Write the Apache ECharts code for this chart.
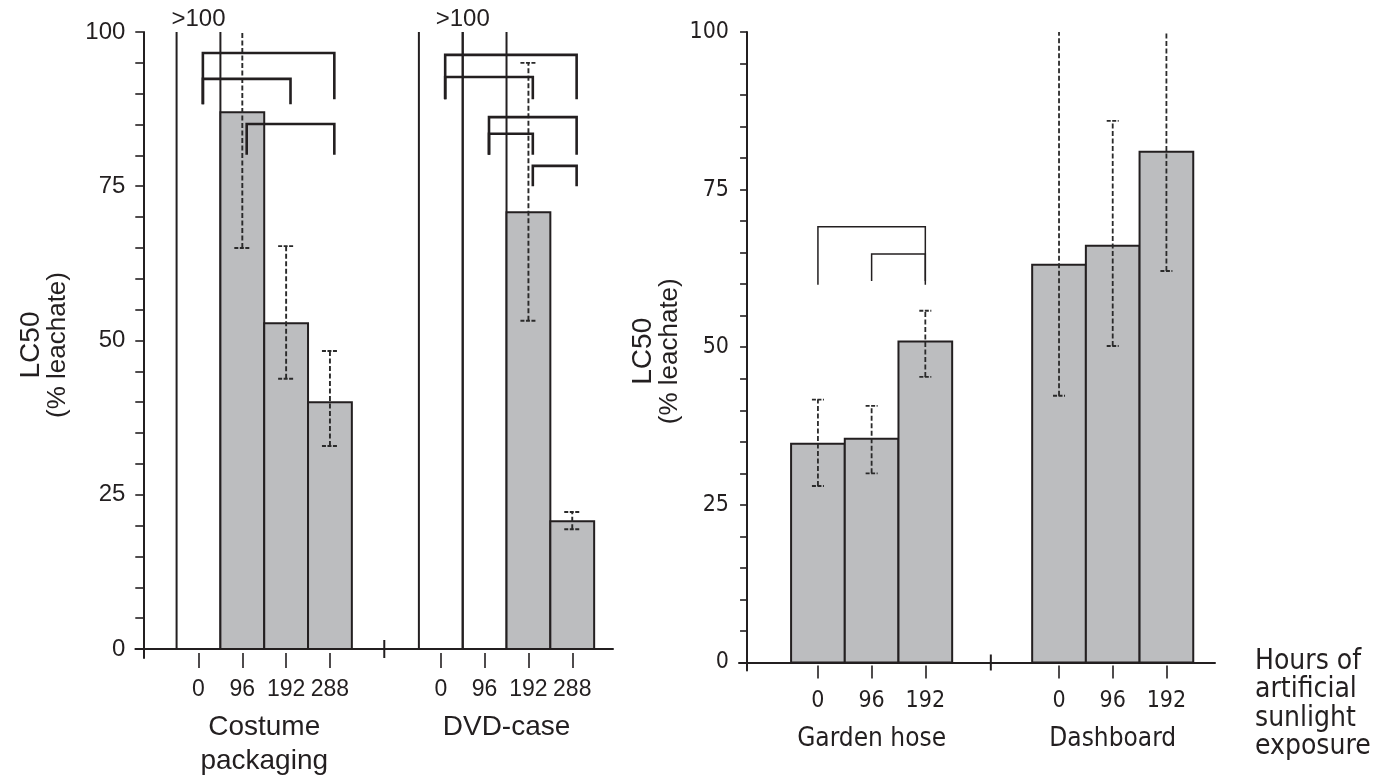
<!DOCTYPE html>
<html><head><meta charset="utf-8">
<script src="https://cdn.jsdelivr.net/npm/echarts@6/dist/echarts.min.js"></script>
<style>html,body{margin:0;padding:0;background:#fff}#c{width:1380px;height:777px}</style>
</head><body><div id="c"></div>
<script>
// ---------------- data ----------------
const hoursLeft = ['0', '96', '192', '288'];
const hoursRight = ['0', '96', '192'];
const groupsLeft = ['Costume\npackaging', 'DVD-case'];
const groupsRight = ['Garden hose', 'Dashboard'];
const yTickLabels = [0, 25, 50, 75, 100];
const openLabel = '>100';
// LC50 (% leachate); null = LC50 > 100 (open bar)
const costumeLC50 = [null, 87.0, 52.8, 40.0];
const costumeUpper = [null, null, 65.3, 48.3];   // null upper = beyond 100
const costumeLower = [null, 65.0, 43.8, 32.9];
const dvdLC50 = [null, null, 70.8, 20.7];
const dvdUpper = [null, null, 95.0, 22.2];
const dvdLower = [null, null, 53.2, 19.4];
const hoseLC50 = [34.7, 35.5, 50.9];
const hoseUpper = [41.7, 40.7, 55.8];
const hoseLower = [28.0, 30.0, 45.3];
const dashLC50 = [63.1, 66.1, 81.0];
const dashUpper = [null, 85.9, null];
const dashLower = [42.3, 50.2, 62.1];
// significance brackets: [fromIndex, toIndex, top, left leg end, right leg end]
const costumeBrackets = [[0, 3, 96.6, 88.3, 89.1], [0, 2, 92.4, 88.3, 88.3], [1, 3, 85.1, 80.1, 80.1]];
const dvdBrackets = [[0, 3, 96.3, 89.1, 89.1], [0, 2, 92.7, 89.1, 89.1], [1, 3, 86.2, 80.1, 80.1], [1, 2, 83.5, 80.1, 80.1], [2, 3, 78.3, 75.0, 75.0]];
const hoseBrackets = [[0, 2, 69.1, 59.9, 59.9], [1, 2, 64.8, 60.5, 60.5]];
const dashBrackets = [];

// ---------------- layout / style ----------------
const FONT = "'Liberation Sans', Arial, Helvetica, sans-serif";
const NARROW = "'Liberation Sans Narrow', 'Arial Narrow', 'DejaVu Sans Condensed', 'Liberation Sans', sans-serif";
const INK = '#231f20';
const FILL = '#bcbdbf';

const panels = [
  {
    grid: { left: 135.4, top: 32, width: 477.6, height: 626, outerBoundsMode: 'none', containLabel: false },
    xmin: -0.18, xmax: 10.72, ymin: -1.46, groupStart: [1.26, 6.79], brk: 5.5, legShift: 0.1,
    hours: hoursLeft, groupNames: groupsLeft,
    groups: [
      { lc: costumeLC50, up: costumeUpper, lo: costumeLower, br: costumeBrackets },
      { lc: dvdLC50, up: dvdUpper, lo: dvdLower, br: dvdBrackets }
    ],
    font: FONT, tickFont: 24, hourFont: 23, groupFont: 28, groupLH: 34, hourMargin: 25, groupMargin: 52,
    axisW: 2, barW: 2, brW: 2.6, capW: 8, tickLen: 8, labelMargin: 10, nameGap: 65, brkHalf: 9, catTickLen: 15, errW: 1.9
  },
  {
    grid: { left: 739, top: 32, width: 476, height: 638.5, outerBoundsMode: 'none', containLabel: false },
    xmin: -0.15, xmax: 8.715, ymin: -1.27, groupStart: [1.32, 5.81], brk: 4.54, legShift: 0,
    hours: hoursRight, groupNames: groupsRight,
    groups: [
      { lc: hoseLC50, up: hoseUpper, lo: hoseLower, br: hoseBrackets },
      { lc: dashLC50, up: dashUpper, lo: dashLower, br: dashBrackets }
    ],
    font: NARROW, tickFont: 23, hourFont: 23, groupFont: 26, groupLH: 30, hourMargin: 24, groupMargin: 54,
    axisW: 2, barW: 2, brW: 1.5, capW: 6, tickLen: 7, labelMargin: 10, nameGap: 56, brkHalf: 8, catTickLen: 13, errW: 1.8
  }
];

const grids = [], xAxes = [], yAxes = [], series = [];
const minorTicks = [];
for (let v = 0; v <= 100; v += 5) minorTicks.push(v);

panels.forEach((P, p) => {
  grids.push(P.grid);
  const barData = [], errData = [], brData = [], openData = [], tickVals = [], tickMap = {}, grpVals = [], grpMap = {};
  P.groups.forEach((G, g) => {
    const xs = G.lc.map((_, i) => P.groupStart[g] + i);
    const openXs = [];
    G.lc.forEach((v, i) => {
      const x = xs[i];
      const open = v == null;
      if (open) openXs.push(x);
      barData.push([x, open ? 100 : v, open ? 1 : 0]);
      if (G.lo[i] != null) {
        const upOpen = G.up[i] == null;
        errData.push([x, G.lo[i], upOpen ? 100 : G.up[i], upOpen ? 1 : 0]);
      }
      tickVals.push(x);
      tickMap[x.toFixed(3)] = P.hours[i];
    });
    if (openXs.length) openData.push([openXs.reduce((a, b) => a + b, 0) / openXs.length, 100]);
    G.br.forEach(b => brData.push([xs[b[0]] + P.legShift, xs[b[1]] + P.legShift, b[2], b[3], b[4]]));
    const c = (xs[0] + xs[xs.length - 1]) / 2;
    grpVals.push(c);
    grpMap[c.toFixed(3)] = P.groupNames[g];
  });

  const base = { gridIndex: p, type: 'value', min: P.xmin, max: P.xmax, splitLine: { show: false } };
  xAxes.push(Object.assign({}, base, {
    axisLine: { onZero: true, lineStyle: { color: INK, width: P.axisW } },
    axisTick: { show: false }, axisLabel: { show: false }
  }));
  xAxes.push(Object.assign({}, base, {
    position: 'bottom', offset: -5,
    axisLine: { show: false, onZero: false },
    axisTick: { show: true, customValues: tickVals, length: P.catTickLen, lineStyle: { color: INK, width: 1.6 } },
    axisLabel: {
      show: true, customValues: tickVals, margin: P.hourMargin,
      formatter: v => tickMap[(+v).toFixed(3)] || '',
      fontFamily: P.font, fontSize: P.hourFont, color: INK
    }
  }));
  xAxes.push(Object.assign({}, base, {
    position: 'bottom', offset: 0,
    axisLine: { show: false, onZero: false }, axisTick: { show: false },
    axisLabel: {
      show: true, customValues: grpVals, margin: P.groupMargin, verticalAlign: 'top',
      formatter: v => grpMap[(+v).toFixed(3)] || '',
      fontFamily: P.font, fontSize: P.groupFont, lineHeight: P.groupLH, color: INK
    }
  }));
  yAxes.push({
    gridIndex: p, type: 'value', min: P.ymin, max: 100, splitLine: { show: false },
    axisLine: { onZero: true, lineStyle: { color: INK, width: P.axisW } },
    axisTick: { show: true, customValues: minorTicks, length: P.tickLen, lineStyle: { color: INK, width: 1.6 } },
    axisLabel: { show: true, customValues: yTickLabels, margin: P.labelMargin, fontFamily: P.font, fontSize: P.tickFont, color: INK },
    name: '{a|LC50}\n{b|(% leachate)}',
    nameLocation: 'middle', nameRotate: 90, nameGap: P.nameGap,
    nameTextStyle: {
      align: 'center',
      rich: {
        a: { fontFamily: FONT, fontSize: 28, lineHeight: 27, color: INK, align: 'center' },
        b: { fontFamily: FONT, fontSize: 26, lineHeight: 26, color: INK, align: 'center' }
      }
    }
  });

  const xi = p * 3;
  // bars
  series.push({
    type: 'custom', xAxisIndex: xi, yAxisIndex: p, data: barData, clip: false, z: 2,
    renderItem: (params, api) => {
      const x = api.value(0), v = api.value(1), open = api.value(2);
      const a = api.coord([x - 0.5, 0]), b = api.coord([x + 0.5, v]);
      if (open) {
        const st = { stroke: INK, lineWidth: P.barW, fill: null };
        return {
          type: 'group', children: [
            { type: 'line', shape: { x1: a[0], y1: a[1], x2: a[0], y2: b[1] }, style: st },
            { type: 'line', shape: { x1: b[0], y1: a[1], x2: b[0], y2: b[1] }, style: st }
          ]
        };
      }
      return {
        type: 'rect', shape: { x: a[0], y: b[1], width: b[0] - a[0], height: a[1] - b[1] },
        style: { fill: FILL, stroke: INK, lineWidth: P.barW }
      };
    }
  });
  // error bars
  series.push({
    type: 'custom', xAxisIndex: xi, yAxisIndex: p, data: errData, clip: false, z: 3,
    renderItem: (params, api) => {
      const x = api.value(0), lo = api.value(1), hi = api.value(2), open = api.value(3);
      const a = api.coord([x, lo]), b = api.coord([x, hi]);
      const st = { stroke: '#2a2a2a', lineWidth: P.errW, lineDash: [5, 2.5], fill: null };
      const cst = { stroke: '#2a2a2a', lineWidth: 1.9, lineDash: [4, 1.5], fill: null };
      const ch = [
        { type: 'line', shape: { x1: a[0], y1: a[1], x2: b[0], y2: b[1] }, style: st },
        { type: 'line', shape: { x1: a[0] - P.capW, y1: a[1], x2: a[0] + P.capW, y2: a[1] }, style: cst }
      ];
      if (!open) ch.push({ type: 'line', shape: { x1: b[0] - P.capW, y1: b[1], x2: b[0] + P.capW, y2: b[1] }, style: cst });
      return { type: 'group', children: ch };
    }
  });
  // brackets
  series.push({
    type: 'custom', xAxisIndex: xi, yAxisIndex: p, data: brData, clip: false, z: 4,
    renderItem: (params, api) => {
      const x1 = api.value(0), x2 = api.value(1), top = api.value(2), l = api.value(3), r = api.value(4);
      const pts = [api.coord([x1, l]), api.coord([x1, top]), api.coord([x2, top]), api.coord([x2, r])];
      return { type: 'polyline', shape: { points: pts }, style: { stroke: INK, lineWidth: P.brW, fill: null } };
    }
  });
  // ">100" labels
  series.push({
    type: 'custom', xAxisIndex: xi, yAxisIndex: p, data: openData, clip: false, z: 4,
    renderItem: (params, api) => {
      const pt = api.coord([api.value(0), api.value(1)]);
      return {
        type: 'text', x: pt[0], y: pt[1] - 1,
        style: { text: openLabel, align: 'center', verticalAlign: 'bottom', fontFamily: FONT, fontSize: 24, fill: INK }
      };
    }
  });
  // axis break mark
  series.push({
    type: 'custom', xAxisIndex: xi, yAxisIndex: p, data: [[P.brk, 0]], clip: false, z: 5,
    renderItem: (params, api) => {
      const pt = api.coord([api.value(0), api.value(1)]);
      return { type: 'line', shape: { x1: pt[0], y1: pt[1] - P.brkHalf, x2: pt[0], y2: pt[1] + P.brkHalf }, style: { stroke: INK, lineWidth: 2 } };
    }
  });
});

const chart = echarts.init(document.getElementById('c'), null, { renderer: 'canvas' });
chart.setOption({
  animation: false,
  backgroundColor: '#fff',
  grid: grids,
  xAxis: xAxes,
  yAxis: yAxes,
  series: series,
  graphic: [{
    type: 'text', left: 1255, top: 647,
    style: { text: 'Hours of\nartificial\nsunlight\nexposure', fontFamily: NARROW, fontSize: 28, lineHeight: 28.5, fill: INK }
  }]
});
</script></body></html>
